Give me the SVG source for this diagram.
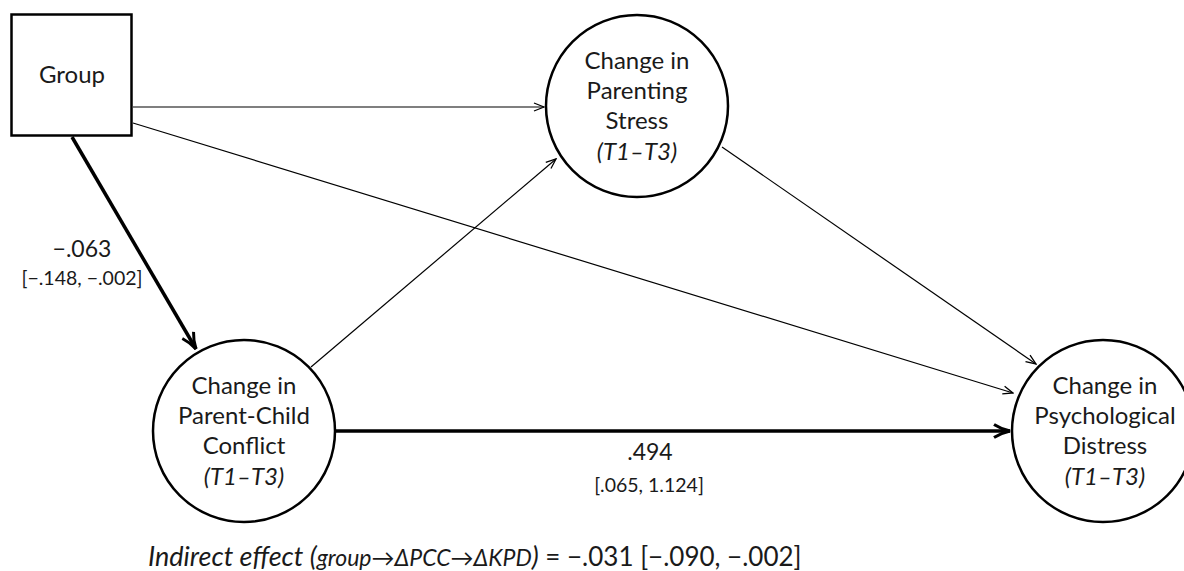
<svg xmlns="http://www.w3.org/2000/svg" width="1184" height="571" viewBox="0 0 1184 571">
<style>
  .node { fill: #fff; stroke: #000; stroke-width: 2.5; }
  .lbl { font-family: Lato, "Open Sans", "Liberation Sans", sans-serif; font-size: 24px; fill: #1a1a1a; text-anchor: middle; }
  .it { font-style: italic; }
  .coef { font-family: Lato, "Open Sans", "Liberation Sans", sans-serif; font-size: 23px; fill: #1a1a1a; text-anchor: middle; }
  .ci { font-family: Lato, "Open Sans", "Liberation Sans", sans-serif; font-size: 19.5px; fill: #1a1a1a; text-anchor: middle; }
  .thin { stroke: #000; stroke-width: 1.2; fill: none; }
  .thick { stroke: #000; stroke-width: 3.5; fill: none; }
</style>
<defs>
  <marker id="ah" viewBox="0 0 12 10" refX="11" refY="5" markerWidth="12" markerHeight="10" markerUnits="userSpaceOnUse" orient="auto">
    <path d="M1,1 L11,5 L1,9" fill="none" stroke="#000" stroke-width="1.3"/>
  </marker>
  <marker id="ahk" viewBox="0 0 20 16" refX="18" refY="8" markerWidth="20" markerHeight="16" markerUnits="userSpaceOnUse" orient="auto">
    <path d="M2,1.5 Q9,6 18,8 Q9,10 2,14.5" fill="none" stroke="#000" stroke-width="3"/>
  </marker>
</defs>
<rect width="1184" height="571" fill="#fff"/>
<g id="connectors">
  <line class="thin" x1="133" y1="107" x2="544" y2="107" marker-end="url(#ah)"/>
  <line class="thin" x1="133" y1="123" x2="1013" y2="393" marker-end="url(#ah)"/>
  <line class="thick" x1="72" y1="137" x2="196" y2="349" marker-end="url(#ahk)"/>
  <line class="thin" x1="311" y1="367" x2="556" y2="159" marker-end="url(#ah)"/>
  <line class="thin" x1="722" y1="147" x2="1036" y2="364" marker-end="url(#ah)"/>
  <line class="thick" x1="335" y1="431" x2="1010" y2="431" marker-end="url(#ahk)"/>
</g>
<g id="group">
  <rect class="node" x="11.5" y="14.5" width="120" height="121"/>
  <text class="lbl" x="72" y="83" font-size="24.5px">Group</text>
</g>
<g id="stress">
  <circle class="node" cx="637" cy="106" r="91"/>
  <text class="lbl" x="637" y="69">Change in</text>
  <text class="lbl" x="637" y="99">Parenting</text>
  <text class="lbl" x="637" y="129">Stress</text>
  <text class="lbl it" x="637" y="160">(T1–T3)</text>
</g>
<g id="pcc">
  <circle class="node" cx="244" cy="431" r="91"/>
  <text class="lbl" x="244" y="394">Change in</text>
  <text class="lbl" x="244" y="424">Parent-Child</text>
  <text class="lbl" x="244" y="454">Conflict</text>
  <text class="lbl it" x="244" y="485">(T1–T3)</text>
</g>
<g id="distress">
  <circle class="node" cx="1103" cy="431" r="91"/>
  <text class="lbl" x="1105" y="394">Change in</text>
  <text class="lbl" x="1105" y="424">Psychological</text>
  <text class="lbl" x="1105" y="454">Distress</text>
  <text class="lbl it" x="1105" y="485">(T1–T3)</text>
</g>
<g id="labels">
  <text class="coef" x="82" y="257">−.063</text>
  <text class="ci" x="82" y="285">[−.148, −.002]</text>
  <text class="coef" x="650" y="460">.494</text>
  <text class="ci" x="649" y="492">[.065, 1.124]</text>
  <text font-family="Lato, 'Open Sans', 'Liberation Sans', sans-serif" fill="#1a1a1a" x="148" y="566" font-size="26px"><tspan font-style="italic" font-size="27px">Indirect effect (</tspan><tspan font-style="italic" font-size="23px">group→ΔPCC→ΔKPD</tspan><tspan font-style="italic" font-size="27px">)</tspan> = −.031 [−.090, −.002]</text>
</g>
</svg>
